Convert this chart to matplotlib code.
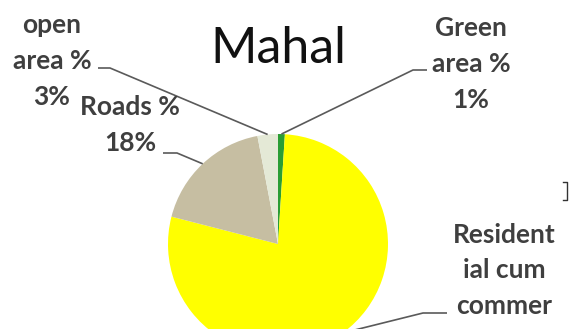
import numpy as np
import matplotlib
matplotlib.use("Agg")
import matplotlib.pyplot as plt

plt.rcParams['font.family'] = ['Lato', 'DejaVu Sans']

# ---- data ----
categories = ["Green area", "Residential cum commercial", "Roads", "open area"]
values = [1, 78, 18, 3]
labels = ["Green\narea %\n1%",
          "Resident\nial cum\ncommer\ncial %\n78%",
          "Roads %\n18%",
          "open\narea %\n3%"]
colors = ["#2a9d34", "#ffff00", "#c6bea2", "#e4e9d6"]
title = "Mahal"

W, H = 570, 329
fig = plt.figure(figsize=(W / 100, H / 100), dpi=100)
ax = fig.add_axes([0, 0, 1, 1])

cx, cy, r = 278, H - 244, 110
wedges, _ = ax.pie(values, colors=colors, startangle=90, counterclock=False,
                   center=(cx, cy), radius=r,
                   wedgeprops=dict(linewidth=0))
ax.set_xlim(0, W)
ax.set_ylim(0, H)
ax.set_aspect('equal')
ax.axis('off')

# label placement (block center) and leader elbow/end points
label_pos = [(471, H - 64), (504, H - 306), (130, H - 125), (52, H - 61)]
elbows = [((413, H - 70), (427, H - 70)),
          ((423, H - 313), (447, H - 313)),
          ((177, H - 153), (163, H - 153)),
          ((110, H - 68), (98, H - 68))]

txtc = "#3f3f3f"
linec = "#5a5a5a"
for w, lab, (lx, ly), (e1, e2) in zip(wedges, labels, label_pos, elbows):
    th = np.deg2rad((w.theta1 + w.theta2) / 2)
    px, py = cx + r * np.cos(th), cy + r * np.sin(th)
    ax.plot([px, e1[0], e2[0]], [py, e1[1], e2[1]], color=linec, lw=1.2,
            solid_capstyle='butt', clip_on=False)
    ax.text(lx, ly, lab, ha='center', va='center', fontsize=19,
            fontweight='bold', color=txtc, linespacing=1.58)

ax.text(278, H - 63, title, ha='center', va='baseline', fontsize=36,
        color="#111111")

# small bracket mark at right edge
ax.plot([563, 567, 567, 563], [H - 182, H - 182, H - 200, H - 200],
        color="#333333", lw=1.0)

fig.savefig("out.png", dpi=100)
